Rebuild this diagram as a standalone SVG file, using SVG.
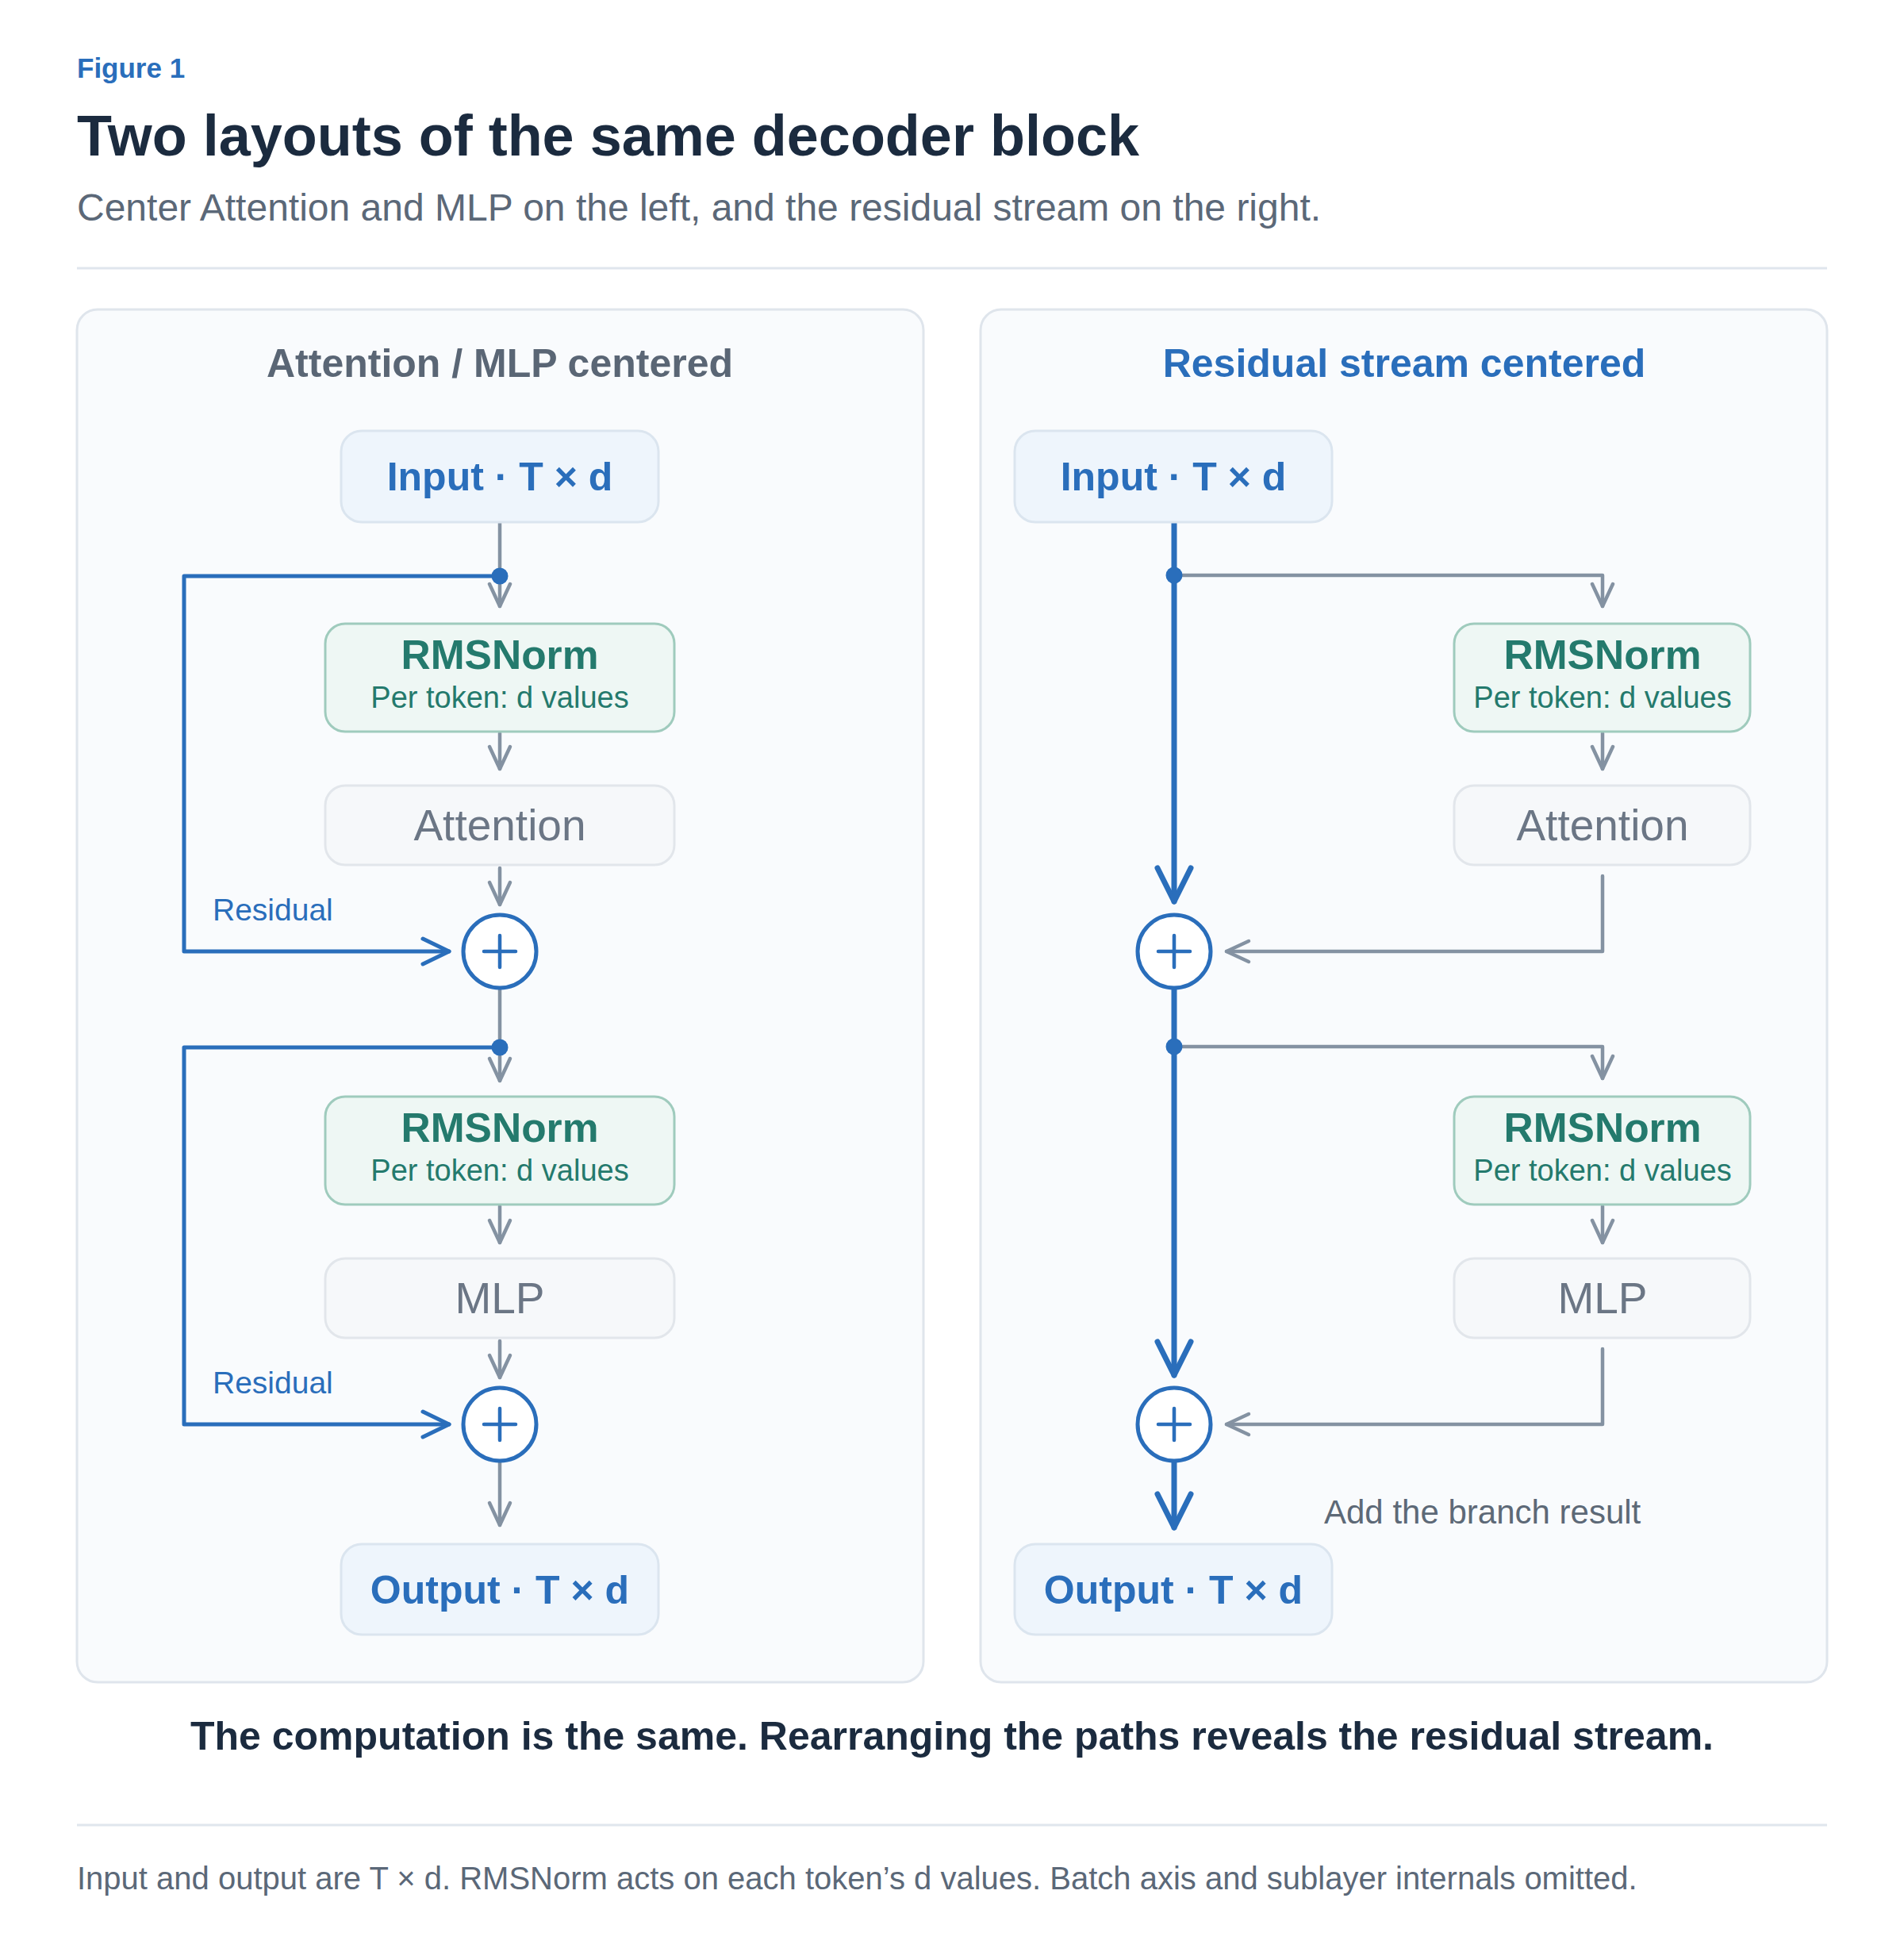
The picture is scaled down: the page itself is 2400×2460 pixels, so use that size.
<svg xmlns="http://www.w3.org/2000/svg" width="2400" height="2460" viewBox="0 0 2400 2460">
<style>
  text { font-family: "Liberation Sans", Arial, Helvetica, sans-serif; }
  .b { font-weight: bold; }
  .panel { fill: #f9fbfd; stroke: #dfe5ec; stroke-width: 3; }
  .io { fill: #eef5fc; stroke: #dbe5ef; stroke-width: 3; }
  .io-t { fill: #2a6ebb; font-size: 50px; font-weight: bold; text-anchor: middle; }
  .norm { fill: #eef7f4; stroke: #9fcbbd; stroke-width: 3; }
  .norm-t { fill: #247a6d; font-size: 51.5px; font-weight: bold; text-anchor: middle; }
  .norm-s { fill: #247a6d; font-size: 38px; text-anchor: middle; }
  .sub { fill: #f6f8fa; stroke: #e2e6eb; stroke-width: 3; }
  .sub-t { fill: #6b7685; font-size: 55px; text-anchor: middle; }
  .g { fill: none; stroke: #8492a2; stroke-width: 4.5; stroke-linecap: round; stroke-linejoin: round; }
  .bl { fill: none; stroke: #2a6ebb; stroke-width: 5; stroke-linecap: round; stroke-linejoin: round; }
  .blt { fill: none; stroke: #2a6ebb; stroke-width: 7; stroke-linecap: round; stroke-linejoin: round; }
  .dot { fill: #2a6ebb; }
  .sum { fill: #ffffff; stroke: #2a6ebb; stroke-width: 5; }
  .plus { stroke: #2a6ebb; stroke-width: 4.5; stroke-linecap: round; }
  .res { fill: #2a6ebb; font-size: 39px; }
  .rule { stroke: #e0e6ed; stroke-width: 3; }
</style>
<defs>
  <marker id="ag" viewBox="-34 -18 40 36" refX="0" refY="0" markerWidth="40" markerHeight="36" markerUnits="userSpaceOnUse" orient="auto">
    <path d="M-28,-13 L0,0 L-28,13" fill="none" stroke="#8492a2" stroke-width="4.5" stroke-linecap="round" stroke-linejoin="round"/>
  </marker>
  <marker id="ab" viewBox="-38 -20 44 40" refX="0" refY="0" markerWidth="44" markerHeight="40" markerUnits="userSpaceOnUse" orient="auto">
    <path d="M-33,-16 L0,0 L-33,16" fill="none" stroke="#2a6ebb" stroke-width="5" stroke-linecap="round" stroke-linejoin="round"/>
  </marker>
  <marker id="abt" viewBox="-48 -26 56 52" refX="0" refY="0" markerWidth="56" markerHeight="52" markerUnits="userSpaceOnUse" orient="auto">
    <path d="M-42,-21 L0,0 L-42,21" fill="none" stroke="#2a6ebb" stroke-width="7" stroke-linecap="round" stroke-linejoin="round"/>
  </marker>
</defs>

<rect x="0" y="0" width="2400" height="2460" fill="#ffffff"/>

<g id="header">
  <text x="97" y="98" class="b" font-size="35" fill="#2a6ebb">Figure 1</text>
  <text x="97" y="196" class="b" font-size="72" fill="#1b2b3f">Two layouts of the same decoder block</text>
  <text x="97" y="278" font-size="48" fill="#5b6878">Center Attention and MLP on the left, and the residual stream on the right.</text>
  <line x1="97" y1="338" x2="2303" y2="338" class="rule"/>
</g>

<g id="panel-left">
  <rect x="97" y="390" width="1067" height="1730" rx="26" class="panel"/>
  <text x="630" y="475" class="b" font-size="50" fill="#5a6675" text-anchor="middle">Attention / MLP centered</text>
</g>
<g id="panel-right">
  <rect x="1236" y="390" width="1067" height="1730" rx="26" class="panel"/>
  <text x="1770" y="475" class="b" font-size="50" fill="#2a6ebb" text-anchor="middle">Residual stream centered</text>
</g>

<g id="connectors">
  <!-- left panel -->
  <path d="M630,657 V764" class="g" marker-end="url(#ag)"/>
  <path d="M630,726 H232 V1199 H566" class="bl" marker-end="url(#ab)"/>
  <path d="M630,924 V969" class="g" marker-end="url(#ag)"/>
  <path d="M630,1094 V1140" class="g" marker-end="url(#ag)"/>
  <path d="M630,1245 V1362" class="g" marker-end="url(#ag)"/>
  <path d="M630,1320 H232 V1795 H566" class="bl" marker-end="url(#ab)"/>
  <path d="M630,1520 V1566" class="g" marker-end="url(#ag)"/>
  <path d="M630,1690 V1736" class="g" marker-end="url(#ag)"/>
  <path d="M630,1841 V1922" class="g" marker-end="url(#ag)"/>
  <circle cx="630" cy="726" r="10.5" class="dot"/>
  <circle cx="630" cy="1320" r="10.5" class="dot"/>
  <!-- right panel -->
  <path d="M1480,657 V1136" class="blt" marker-end="url(#abt)"/>
  <path d="M1480,725 H2020 V764" class="g" marker-end="url(#ag)"/>
  <path d="M2020,924 V969" class="g" marker-end="url(#ag)"/>
  <path d="M2020,1104 V1199 H1546" class="g" marker-end="url(#ag)"/>
  <path d="M1480,1245 V1733" class="blt" marker-end="url(#abt)"/>
  <path d="M1480,1319 H2020 V1359" class="g" marker-end="url(#ag)"/>
  <path d="M2020,1520 V1566" class="g" marker-end="url(#ag)"/>
  <path d="M2020,1700 V1795 H1546" class="g" marker-end="url(#ag)"/>
  <path d="M1480,1841 V1925" class="blt" marker-end="url(#abt)"/>
  <circle cx="1480" cy="725" r="10.5" class="dot"/>
  <circle cx="1480" cy="1319" r="10.5" class="dot"/>
  <text x="268" y="1160" class="res">Residual</text>
  <text x="268" y="1756" class="res">Residual</text>
  <text x="1669" y="1920" font-size="42" fill="#5d6977">Add the branch result</text>
</g>

<g id="L-input"><rect x="430" y="543" width="400" height="115" rx="26" class="io"/><text x="630" y="618" class="io-t">Input · T × d</text></g>
<g id="L-norm1"><rect x="410" y="786" width="440" height="136" rx="25" class="norm"/><text x="630" y="843" class="norm-t">RMSNorm</text><text x="630" y="892" class="norm-s">Per token: d values</text></g>
<g id="L-attn"><rect x="410" y="990" width="440" height="100" rx="25" class="sub"/><text x="630" y="1059" class="sub-t">Attention</text></g>
<g id="L-sum1"><circle cx="630" cy="1199" r="46" class="sum"/><line x1="610" y1="1199" x2="650" y2="1199" class="plus"/><line x1="630" y1="1179" x2="630" y2="1219" class="plus"/></g>
<g id="L-norm2"><rect x="410" y="1382" width="440" height="136" rx="25" class="norm"/><text x="630" y="1439" class="norm-t">RMSNorm</text><text x="630" y="1488" class="norm-s">Per token: d values</text></g>
<g id="L-mlp"><rect x="410" y="1586" width="440" height="100" rx="25" class="sub"/><text x="630" y="1655" class="sub-t">MLP</text></g>
<g id="L-sum2"><circle cx="630" cy="1795" r="46" class="sum"/><line x1="610" y1="1795" x2="650" y2="1795" class="plus"/><line x1="630" y1="1775" x2="630" y2="1815" class="plus"/></g>
<g id="L-output"><rect x="430" y="1946" width="400" height="114" rx="26" class="io"/><text x="630" y="2021" class="io-t">Output · T × d</text></g>

<g id="R-input"><rect x="1279" y="543" width="400" height="115" rx="26" class="io"/><text x="1479" y="618" class="io-t">Input · T × d</text></g>
<g id="R-norm1"><rect x="1833" y="786" width="373" height="136" rx="25" class="norm"/><text x="2020" y="843" class="norm-t">RMSNorm</text><text x="2020" y="892" class="norm-s">Per token: d values</text></g>
<g id="R-attn"><rect x="1833" y="990" width="373" height="100" rx="25" class="sub"/><text x="2020" y="1059" class="sub-t">Attention</text></g>
<g id="R-sum1"><circle cx="1480" cy="1199" r="46" class="sum"/><line x1="1460" y1="1199" x2="1500" y2="1199" class="plus"/><line x1="1480" y1="1179" x2="1480" y2="1219" class="plus"/></g>
<g id="R-norm2"><rect x="1833" y="1382" width="373" height="136" rx="25" class="norm"/><text x="2020" y="1439" class="norm-t">RMSNorm</text><text x="2020" y="1488" class="norm-s">Per token: d values</text></g>
<g id="R-mlp"><rect x="1833" y="1586" width="373" height="100" rx="25" class="sub"/><text x="2020" y="1655" class="sub-t">MLP</text></g>
<g id="R-sum2"><circle cx="1480" cy="1795" r="46" class="sum"/><line x1="1460" y1="1795" x2="1500" y2="1795" class="plus"/><line x1="1480" y1="1775" x2="1480" y2="1815" class="plus"/></g>
<g id="R-output"><rect x="1279" y="1946" width="400" height="114" rx="26" class="io"/><text x="1479" y="2021" class="io-t">Output · T × d</text></g>

<g id="footer">
  <text x="1200" y="2205" class="b" font-size="50" fill="#1b2b3f" text-anchor="middle">The computation is the same. Rearranging the paths reveals the residual stream.</text>
  <line x1="97" y1="2300" x2="2303" y2="2300" class="rule"/>
  <text x="97" y="2381" font-size="40" fill="#5b6878">Input and output are T × d. RMSNorm acts on each token’s d values. Batch axis and sublayer internals omitted.</text>
</g>
</svg>
